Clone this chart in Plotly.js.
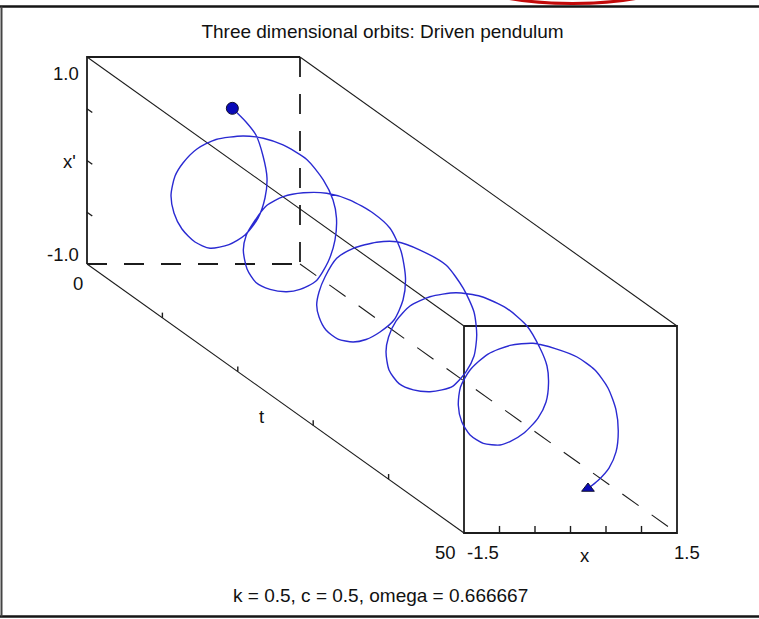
<!DOCTYPE html>
<html>
<head>
<meta charset="utf-8">
<script src="https://cdn.plot.ly/plotly-3.0.1.min.js"></script>
<style>
  html, body { margin: 0; padding: 0; background: #fff; }
  #chart { width: 759px; height: 619px; }
</style>
</head>
<body>
<div id="chart"></div>
<script>
// Box extents of the three axes
const T_RANGE = [0, 50];
const X_RANGE = [-1.5, 1.5];
const XP_RANGE = [-1.0, 1.0];

// Tick positions on each axis
const X_TICKS = [-1.0, -0.5, 0, 0.5, 1.0];
const XP_TICKS = [-0.5, 0, 0.5];
const T_TICKS = [10, 20, 30, 40];

// Pendulum parameters
const K = 0.5;
const C = 0.5;
const OMEGA = 0.666667;

// Orbit samples: time, angle x, angular velocity x'
const orbitT = [0, 0.45, 0.9, 1.35, 1.8, 2.24, 2.68, 3.12, 3.56, 4.0, 4.55, 5.1, 5.65, 6.2,
  6.64, 7.08, 7.52, 7.96, 8.4, 8.79, 9.18, 9.57, 9.97, 10.36, 10.75, 11.22, 11.69, 12.16,
  12.63, 13.1, 13.69, 14.28, 14.86, 15.45, 15.92, 16.39, 16.86, 17.33, 17.8, 18.19, 18.58,
  18.98, 19.37, 19.76, 20.15, 20.62, 21.09, 21.56, 22.03, 22.5, 23.09, 23.68, 24.26, 24.85,
  25.32, 25.79, 26.26, 26.73, 27.2, 27.59, 27.98, 28.38, 28.77, 29.16, 29.55, 30.02, 30.49,
  30.96, 31.43, 31.9, 32.49, 33.08, 33.66, 34.25, 34.72, 35.19, 35.66, 36.13, 36.6, 36.99,
  37.38, 37.78, 38.17, 38.56, 38.95, 39.42, 39.89, 40.36, 40.83, 41.3, 41.89, 42.48, 43.06,
  43.65, 44.12, 44.59, 45.06, 45.53, 46.0, 46.39, 46.78, 47.18, 47.57, 47.96, 48.35, 48.76,
  49.18, 49.59, 50.0];
const orbitX = [0.547, 0.692, 0.784, 0.836, 0.844, 0.769, 0.624, 0.394, 0.122, -0.192, -0.462,
  -0.704, -0.875, -0.975, -0.965, -0.900, -0.750, -0.528, -0.195, 0.050, 0.286, 0.579, 0.769,
  0.865, 0.872, 0.801, 0.653, 0.434, 0.159, -0.078, -0.376, -0.637, -0.824, -0.939, -0.951,
  -0.889, -0.760, -0.575, -0.343, -0.056, 0.231, 0.517, 0.711, 0.824, 0.846, 0.761, 0.584,
  0.337, 0.090, -0.142, -0.417, -0.649, -0.808, -0.904, -0.921, -0.887, -0.772, -0.588,
  -0.309, -0.068, 0.219, 0.542, 0.745, 0.854, 0.851, 0.763, 0.600, 0.367, 0.162, -0.057,
  -0.354, -0.618, -0.821, -0.926, -0.940, -0.885, -0.738, -0.506, -0.190, 0.121, 0.441,
  0.685, 0.826, 0.884, 0.864, 0.779, 0.616, 0.369, 0.122, -0.069, -0.367, -0.616, -0.795,
  -0.906, -0.925, -0.840, -0.637, -0.377, -0.103, 0.179, 0.434, 0.644, 0.786, 0.858, 0.848,
  0.773, 0.629, 0.431, 0.246];
const orbitXP = [0.504, 0.395, 0.293, 0.114, -0.076, -0.246, -0.417, -0.558, -0.627, -0.640,
  -0.551, -0.397, -0.213, -0.011, 0.195, 0.344, 0.502, 0.617, 0.674, 0.672, 0.627, 0.507,
  0.330, 0.157, 0.003, -0.185, -0.373, -0.532, -0.589, -0.587, -0.534, -0.437, -0.276,
  -0.062, 0.099, 0.258, 0.441, 0.551, 0.613, 0.629, 0.584, 0.477, 0.352, 0.153, -0.088,
  -0.276, -0.445, -0.536, -0.584, -0.584, -0.525, -0.407, -0.251, -0.104, 0.046, 0.215,
  0.420, 0.541, 0.624, 0.649, 0.589, 0.465, 0.260, 0.052, -0.150, -0.329, -0.458, -0.570,
  -0.583, -0.576, -0.528, -0.436, -0.274, -0.067, 0.100, 0.278, 0.448, 0.562, 0.624, 0.609,
  0.515, 0.365, 0.172, 0.019, -0.125, -0.284, -0.415, -0.535, -0.593, -0.602, -0.555,
  -0.444, -0.286, -0.093, 0.105, 0.294, 0.472, 0.580, 0.625, 0.592, 0.533, 0.428, 0.275,
  0.082, -0.100, -0.281, -0.415, -0.514, -0.570];

// ---- oblique projection -------------------------------------------------
const W = 759, H = 619;
const PX_PER_X = 71;        // pixels per unit of x
const PX_PER_XP = 103.5;    // pixels per unit of x'
const DEPTH_PX = [377, 269];  // page offset of the t = 0 face from the t = 50 face
const T_SPAN = T_RANGE[1] - T_RANGE[0];
const KX = DEPTH_PX[0] / PX_PER_X / T_SPAN;
const KY = DEPTH_PX[1] / PX_PER_XP / T_SPAN;

function proj(x, xp, t) {
  const d = T_RANGE[1] - t;
  return [x - KX * d, xp + KY * d];
}

// Axis ranges that put the near face (t = 50) at its place on the page
const FRONT_LEFT = 464, FRONT_TOP = 326;
const xr0 = X_RANGE[0] - FRONT_LEFT / PX_PER_X;
const xRange = [xr0, xr0 + W / PX_PER_X];
const yr1 = XP_RANGE[1] + FRONT_TOP / PX_PER_XP;
const yRange = [yr1 - H / PX_PER_XP, yr1];

function segments(list) {
  const xs = [], ys = [];
  list.forEach(seg => {
    seg.forEach(p => { const q = proj(p[0], p[1], p[2]); xs.push(q[0]); ys.push(q[1]); });
    xs.push(null); ys.push(null);
  });
  return { x: xs, y: ys };
}

const [x0, x1] = X_RANGE, [p0, p1] = XP_RANGE, [t0, t1] = T_RANGE;
const INK = '#1c1c1c';

function lineTrace(segs, width, dash) {
  const s = segments(segs);
  return { type: 'scatter', mode: 'lines', x: s.x, y: s.y, hoverinfo: 'skip',
    line: { color: INK, width: width, dash: dash || 'solid' } };
}

// faces
const frontFace = lineTrace([
  [[x0, p1, t1], [x1, p1, t1], [x1, p0, t1], [x0, p0, t1], [x0, p1, t1]]
], 1.8);
const backSolid = lineTrace([
  [[x0, p0, t0], [x0, p1, t0], [x1, p1, t0]]
], 1.8);
const backHidden = lineTrace([
  [[x0, p0, t0], [x1, p0, t0]],
  [[x1, p1, t0], [x1, p0, t0]]
], 1.8, '20px,17px');
// depth edges
const depthSolid = lineTrace([
  [[x0, p1, t0], [x0, p1, t1]],
  [[x1, p1, t0], [x1, p1, t1]],
  [[x0, p0, t0], [x0, p0, t1]]
], 1.1);
const depthHidden = lineTrace([
  [[x1, p0, t0], [x1, p0, t1]]
], 1.1, '20px,16px');

// ticks
const tickSegs = [];
X_TICKS.forEach(v => tickSegs.push([[v, p0, t1], [v, p0 + 0.068, t1]]));
XP_TICKS.forEach(v => tickSegs.push([[x0, v, t0], [x0, v, t0 + 0.7]]));
T_TICKS.forEach(v => tickSegs.push([[x0, p0, v], [x0, p0 + 0.05, v]]));
const ticks = lineTrace(tickSegs, 1.4);

// orbit
const ox = [], oy = [];
for (let i = 0; i < orbitT.length; i++) {
  const q = proj(orbitX[i], orbitXP[i], orbitT[i]);
  ox.push(q[0]); oy.push(q[1]);
}
const orbit = { type: 'scatter', mode: 'lines', x: ox, y: oy, hoverinfo: 'skip',
  line: { color: '#2a2ad2', width: 1.4, shape: 'spline', smoothing: 0.7 } };

const last = orbitT.length - 1;
const startMark = { type: 'scatter', mode: 'markers', x: [ox[0]], y: [oy[0]], hoverinfo: 'skip',
  marker: { symbol: 'circle', size: 12, color: '#0a0ab8', line: { color: '#101030', width: 1 } } };
const endMark = { type: 'scatter', mode: 'markers', x: [ox[last]], y: [oy[last]], hoverinfo: 'skip',
  marker: { symbol: 'triangle-up', size: 11, color: '#0a0ab8', line: { color: '#101030', width: 1 } } };

// ---- labels --------------------------------------------------------------
const FONT = 'Liberation Sans, Arial, Helvetica, sans-serif';
const LABEL_FONT = { family: FONT, size: 18.5, color: '#111' };

function label(text, at, xanchor, xshift, yshift) {
  const q = proj(at[0], at[1], at[2]);
  return { text: text, x: q[0], y: q[1], xref: 'x', yref: 'y', xanchor: xanchor,
    yanchor: 'middle', xshift: xshift, yshift: yshift, showarrow: false,
    borderpad: 0, borderwidth: 0, font: LABEL_FONT };
}

const annotations = [
  label(XP_RANGE[1].toFixed(1), [x0, p1, t0], 'right', -8.5, -16.3),
  label(XP_RANGE[0].toFixed(1), [x0, p0, t0], 'right', -8.5, 10),
  label("x'", [x0, (p0 + p1) / 2, t0], 'right', -11, -0.5),
  label(String(T_RANGE[0]), [x0, p0, t0], 'center', -8.7, -19.5),
  label('t', [x0, p0, (t0 + t1) / 2], 'center', -14.5, -17.5),
  label(String(T_RANGE[1]), [x0, p0, t1], 'center', -19, -19.5),
  label(X_RANGE[0].toFixed(1), [x0, p0, t1], 'center', 19.3, -19),
  label('x', [(x0 + x1) / 2, p0, t1], 'center', 14.5, -22),
  label(X_RANGE[1].toFixed(1), [x1, p0, t1], 'center', 9.7, -19),
  { text: 'k = ' + K + ', c = ' + C + ', omega = ' + OMEGA,
    x: 380 / W, y: 1 - 595.5 / H, xref: 'paper', yref: 'paper',
    xanchor: 'center', yanchor: 'middle', showarrow: false,
    borderpad: 0, borderwidth: 0, font: { family: FONT, size: 19, color: '#111' } }
];

// window frame and the red stroke peeking in at the top
const px = v => v / W;
const py = v => 1 - v / H;
const shapes = [
  { type: 'line', xref: 'paper', yref: 'paper', x0: px(0), x1: px(W), y0: py(6.5), y1: py(6.5),
    line: { color: '#151515', width: 2.4 } },
  { type: 'line', xref: 'paper', yref: 'paper', x0: px(0), x1: px(W), y0: py(616.5), y1: py(616.5),
    line: { color: '#151515', width: 2.4 } },
  { type: 'line', xref: 'paper', yref: 'paper', x0: px(1.5), x1: px(1.5), y0: py(6.5), y1: py(616.5),
    line: { color: '#444', width: 2 } },
  { type: 'circle', xref: 'paper', yref: 'paper', x0: px(475), x1: px(670), y0: py(-39.5), y1: py(3.5),
    line: { color: '#c20a0a', width: 3.2 }, fillcolor: 'rgba(0,0,0,0)' }
];

const layout = {
  width: W, height: H,
  margin: { l: 0, r: 0, t: 0, b: 0, pad: 0 },
  paper_bgcolor: '#ffffff', plot_bgcolor: '#ffffff',
  showlegend: false,
  title: { text: 'Three dimensional orbits: Driven pendulum',
    x: 382.5 / W, xanchor: 'center', y: 1 - 31 / H, yanchor: 'middle',
    font: { family: FONT, size: 19, color: '#111' } },
  xaxis: { range: xRange, visible: false, fixedrange: true },
  yaxis: { range: yRange, visible: false, fixedrange: true },
  annotations: annotations,
  shapes: shapes
};

Plotly.newPlot('chart',
  [backHidden, depthHidden, backSolid, depthSolid, frontFace, ticks, orbit, startMark, endMark],
  layout, { displayModeBar: false, staticPlot: true });
</script>
</body>
</html>
